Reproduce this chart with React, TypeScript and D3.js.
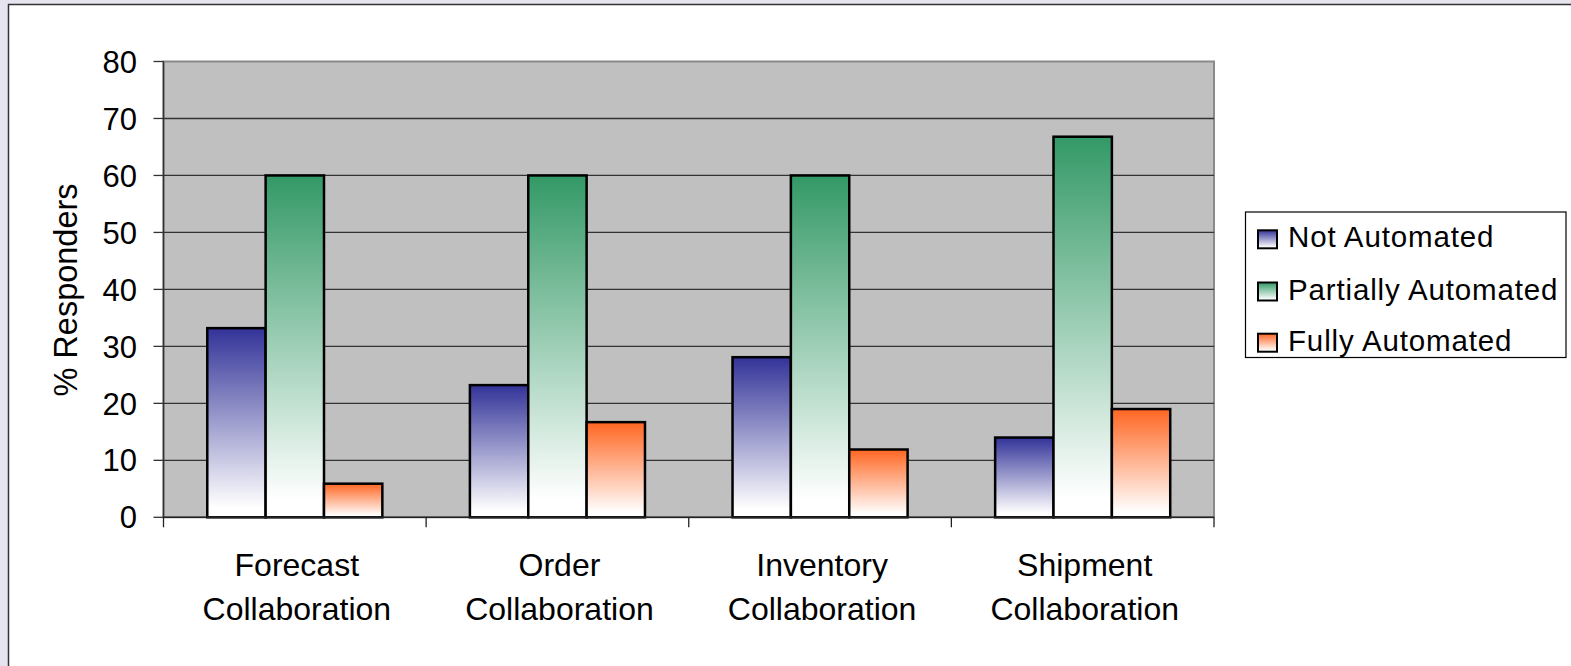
import React from "react";
import * as d3 from "d3";

const categories = ["Forecast Collaboration", "Order Collaboration", "Inventory Collaboration", "Shipment Collaboration"];
const seriesNames = ["Not Automated", "Partially Automated", "Fully Automated"];
const notAutomated = [33.2, 23.2, 28.1, 14.0];
const partiallyAutomated = [60, 60, 60, 66.8];
const fullyAutomated = [5.9, 16.7, 11.9, 19.0];
const yTicks = [0, 10, 20, 30, 40, 50, 60, 70, 80];
const seriesColors = ["#333399", "#339966", "#ff6622"];

const W = 1571;
const H = 666;
const FONT = "'Liberation Sans', Arial, sans-serif";

export default function App() {
  const series = [notAutomated, partiallyAutomated, fullyAutomated];
  const plot = { left: 163.5, right: 1214, top: 61.5, bottom: 517.3 };

  const x0 = d3.scaleBand<string>().domain(categories).range([plot.left, plot.right]).padding(0);
  const x1 = d3
    .scaleBand<number>()
    .domain([0, 1, 2])
    .range([0, x0.bandwidth()])
    .paddingInner(0)
    .paddingOuter(0.75);
  const y = d3.scaleLinear().domain([0, 80]).range([plot.bottom, plot.top]);

  const boundaries = d3.range(categories.length + 1).map((i) => plot.left + i * x0.step());

  const legend = { x: 1245.5, y: 212, w: 320.5, h: 145.5 };
  const legendRows = [247.3, 299.5, 350.7];

  return (
    <svg
      width={W}
      height={H}
      style={{ position: "absolute", left: 0, top: 0, display: "block" }}
      fontFamily={FONT}
    >
      <defs>
        {seriesColors.map((c, i) => (
          <linearGradient key={i} id={`grad${i}`} x1="0" y1="0" x2="0" y2="1">
            <stop offset="0" stopColor={c} />
            <stop offset="0.95" stopColor="#ffffff" />
            <stop offset="1" stopColor="#ffffff" />
          </linearGradient>
        ))}
      </defs>

      {/* page background and chart frame */}
      <rect x={0} y={0} width={W} height={H} fill="#e6e4ef" />
      <rect x={8.5} y={4.5} width={W + 20} height={H + 20} fill="#ffffff" stroke="#333333" strokeWidth={1.5} />

      {/* plot area */}
      <rect
        x={plot.left}
        y={plot.top}
        width={plot.right - plot.left}
        height={plot.bottom - plot.top}
        fill="#c0c0c0"
        stroke="#8a8a8a"
        strokeWidth={2}
      />

      {/* gridlines */}
      {yTicks
        .filter((t) => t > 0 && t < 80)
        .map((t) => (
          <line key={t} x1={plot.left} x2={plot.right} y1={y(t)} y2={y(t)} stroke="#333333" strokeWidth={1.3} />
        ))}

      {/* bars */}
      {categories.map((cat, ci) =>
        series.map((vals, si) => {
          const bx = (x0(cat) as number) + (x1(si) as number);
          return (
            <rect
              key={`${ci}-${si}`}
              x={bx}
              y={y(vals[ci])}
              width={x1.bandwidth()}
              height={plot.bottom - y(vals[ci])}
              fill={`url(#grad${si})`}
              stroke="#000000"
              strokeWidth={2.5}
            />
          );
        })
      )}

      {/* y axis */}
      <line x1={plot.left} x2={plot.left} y1={plot.top} y2={plot.bottom} stroke="#333333" strokeWidth={1.5} />
      {yTicks.map((t) => (
        <g key={t}>
          <line x1={plot.left - 10} x2={plot.left} y1={y(t)} y2={y(t)} stroke="#333333" strokeWidth={1.3} />
          <text x={137} y={y(t)} dy="0.36em" textAnchor="end" fontSize={31} fill="#000">
            {t}
          </text>
        </g>
      ))}
      <text
        transform={`translate(77,290) rotate(-90)`}
        textAnchor="middle"
        fontSize={32.5}
        fill="#000"
      >
        % Responders
      </text>

      {/* x axis */}
      <line x1={plot.left} x2={plot.right} y1={plot.bottom} y2={plot.bottom} stroke="#222222" strokeWidth={1.5} />
      {boundaries.map((bx, i) => (
        <line key={i} x1={bx} x2={bx} y1={plot.bottom} y2={plot.bottom + 10} stroke="#222222" strokeWidth={1.3} />
      ))}
      {categories.map((cat) => {
        const cx = (x0(cat) as number) + x0.bandwidth() / 2 + 2;
        const words = cat.split(" ");
        return (
          <text key={cat} textAnchor="middle" fontSize={32} fill="#000">
            <tspan x={cx} y={576}>
              {words[0]}
            </tspan>
            <tspan x={cx} y={620}>
              {words[1]}
            </tspan>
          </text>
        );
      })}

      {/* legend */}
      <rect x={legend.x} y={legend.y} width={legend.w} height={legend.h} fill="#ffffff" stroke="#000000" strokeWidth={1.2} />
      {seriesNames.map((name, i) => (
        <g key={name}>
          <rect
            x={1258}
            y={legendRows[i] - 17}
            width={19}
            height={18}
            fill={`url(#grad${i})`}
            stroke="#000000"
            strokeWidth={2}
          />
          <text x={1288} y={legendRows[i]} fontSize={29.5} letterSpacing={0.85} fill="#000">
            {name}
          </text>
        </g>
      ))}
    </svg>
  );
}
